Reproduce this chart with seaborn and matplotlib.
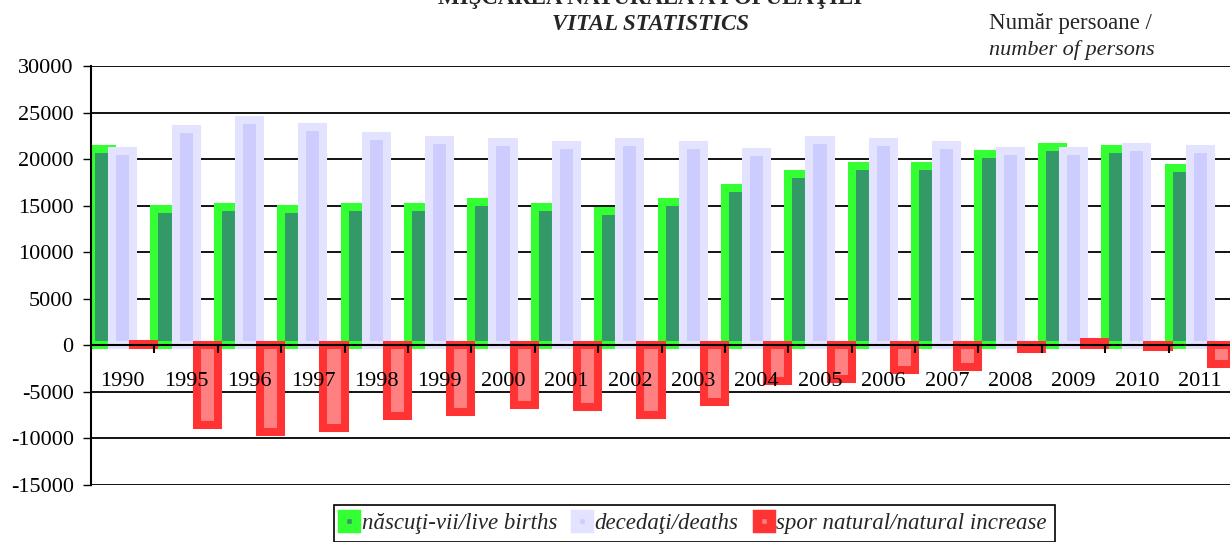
import numpy as np
import pandas as pd
import matplotlib
matplotlib.use("Agg")
import matplotlib.pyplot as plt
from matplotlib.patches import Patch
import seaborn as sns

# ---- data ----
years = ["1990", "1995", "1996", "1997", "1998", "1999", "2000", "2001", "2002",
         "2003", "2004", "2005", "2006", "2007", "2008", "2009", "2010", "2011"]
births = [21080, 14660, 14870, 14660, 14870, 14870, 15390, 14850, 14420,
          15390, 16890, 18400, 19210, 19210, 20540, 21290, 21080, 19050]
deaths = [20920, 23220, 24200, 23500, 22470, 22040, 21830, 21510, 21890,
          21510, 20760, 22050, 21880, 21510, 20920, 20920, 21290, 21080]
increase = [160, -8560, -9330, -8840, -7600, -7170, -6440, -6660, -7470,
            -6120, -3870, -3650, -2670, -2300, -380, 370, -210, -2030]
series = ["născuţi-vii/live births", "decedaţi/deaths", "spor natural/natural increase"]
yticks = list(range(-15000, 30001, 5000))

face_colors = ["#339966", "#CCCCFF", "#FF8080"]
edge_colors = ["#33FF33", "#E3E3FF", "#FF3333"]

df = pd.DataFrame({
    "year": years * 3,
    "series": [series[0]] * len(years) + [series[1]] * len(years) + [series[2]] * len(years),
    "value": births + deaths + increase,
})

sns.set_style("white")
plt.rcParams["font.family"] = ["Liberation Serif", "DejaVu Serif"]
plt.rcParams["axes.unicode_minus"] = False

W, H = 1230, 542
fig = plt.figure(figsize=(W / 100, H / 100), dpi=100)
ax = fig.add_axes([91 / W, 57 / H, 1141 / W, 419 / H])

# horizontal grid lines (behind bars)
for v in yticks:
    ax.axhline(v, color="black", lw=1.3, zorder=0)

sns.barplot(data=df, x="year", y="value", hue="series", order=years,
            hue_order=series, palette=face_colors, width=1.0, dodge=True,
            saturation=1, errorbar=None, ax=ax, legend=False)

# bright outer stroke around each bar
for cont, ec in zip(ax.containers, edge_colors):
    for p in cont:
        p.set_edgecolor(ec)
        p.set_linewidth(5.8)
        p.set_zorder(1)

ax.set_axisbelow(False)

n = len(years)
ax.set_xlim(-0.5, n - 0.5)
ax.set_ylim(-15000, 30000)
ax.set_xlabel("")
ax.set_ylabel("")

ax.set_yticks(yticks)
ax.set_yticklabels([str(v) for v in yticks])
ax.tick_params(axis="y", direction="out", length=5.5, width=1.0, pad=7,
               labelsize=16, colors="black", left=True)

ax.set_xticks(np.arange(0.5, n - 0.5, 1.0))
ax.set_xticklabels([])
ax.set_xticks(np.arange(n), minor=True)
ax.set_xticklabels(years, minor=True)
ax.tick_params(axis="x", which="major", direction="out", length=5.5, width=1.5,
               colors="black", bottom=True)
ax.tick_params(axis="x", which="minor", length=0, pad=19, labelsize=16,
               labelcolor="black")

for s in ["top", "right"]:
    ax.spines[s].set_visible(False)
ax.spines["left"].set_color("black")
ax.spines["left"].set_linewidth(1.5)
ax.spines["bottom"].set_position(("data", 0))
ax.spines["bottom"].set_color("black")
ax.spines["bottom"].set_linewidth(1.5)

# titles
fig.text(650 / W, 1 - 4 / H, "MIŞCAREA NATURALĂ A POPULAŢIEI", ha="center",
         va="baseline", fontsize=16.5, fontweight="bold")
fig.text(650 / W, 1 - 25 / H, "VITAL STATISTICS", ha="center", va="center",
         fontsize=16.5, fontweight="bold", fontstyle="italic")
fig.text(989 / W, 1 - 24 / H, "Număr persoane /", ha="left", va="center",
         fontsize=16.5)
fig.text(989 / W, 1 - 50 / H, "number of persons", ha="left", va="center",
         fontsize=16, fontstyle="italic")

# legend
handles = [Patch(facecolor=fc, edgecolor=ec, linewidth=6.8)
           for fc, ec in zip(face_colors, edge_colors)]
leg = fig.legend(handles, series, loc="upper left",
                 bbox_to_anchor=(334 / W, 1 - 505 / H), bbox_transform=fig.transFigure,
                 ncol=3, frameon=True, fancybox=False, edgecolor="black",
                 framealpha=1, handlelength=0.6, handleheight=0.6,
                 handletextpad=0.25, columnspacing=0.8, borderpad=0.35,
                 borderaxespad=0, prop={"family": ["Liberation Serif"],
                                        "style": "italic", "size": 16.5})
leg.get_frame().set_linewidth(1.2)

fig.savefig("out.png", dpi=100)
